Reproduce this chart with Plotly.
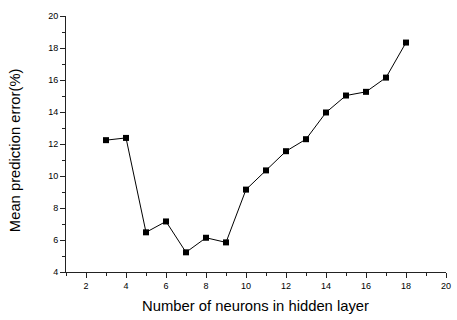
import plotly.graph_objects as go

neurons = [3, 4, 5, 6, 7, 8, 9, 10, 11, 12, 13, 14, 15, 16, 17, 18]
error_pct = [12.24, 12.38, 6.48, 7.16, 5.23, 6.14, 5.85, 9.15, 10.35, 11.55, 12.30, 13.97, 15.03, 15.26, 16.15, 18.34]
x_ticks = [2, 4, 6, 8, 10, 12, 14, 16, 18, 20]
y_ticks = [4, 6, 8, 10, 12, 14, 16, 18, 20]

W, H = 457, 320
ML, MR, MT, MB = 66, 6, 16, 48
PW, PH = W - ML - MR, H - MT - MB

fig = go.Figure(go.Scatter(
    x=neurons, y=error_pct, mode="lines+markers",
    line=dict(color="black", width=1),
    marker=dict(symbol="square", size=6, color="black"),
    cliponaxis=False,
))

axis_common = dict(
    showline=True, linecolor="#222", linewidth=1,
    ticks="outside", ticklen=5, tickwidth=1, tickcolor="#222",
    showgrid=False, zeroline=False,
    tickfont=dict(family="Liberation Sans, Arial", size=9, color="black"),
)

fig.update_layout(
    width=W, height=H,
    margin=dict(l=ML, r=MR, t=MT, b=MB),
    paper_bgcolor="white", plot_bgcolor="white",
    showlegend=False,
    xaxis=dict(range=[1, 20], tickvals=x_ticks, ticktext=[str(v) for v in x_ticks],
               minor=dict(dtick=1, tick0=1, ticks="outside", ticklen=3, tickcolor="#222"),
               **axis_common),
    yaxis=dict(range=[4, 20], tickvals=y_ticks, ticktext=[str(v) for v in y_ticks],
               minor=dict(dtick=1, tick0=4, ticks="outside", ticklen=3, tickcolor="#222"),
               **axis_common),
    annotations=[
        dict(text="Number of neurons in hidden layer", xref="paper", yref="paper",
             x=(258 - ML) / PW, y=(H - MB - 306) / PH, xanchor="center", yanchor="middle",
             showarrow=False, font=dict(family="Liberation Sans, Arial", size=14.8, color="black")),
        dict(text="Mean prediction error(%)", xref="paper", yref="paper", textangle=-90,
             x=(14.5 - ML) / PW, y=(H - MB - 150) / PH, xanchor="center", yanchor="middle",
             showarrow=False, font=dict(family="Liberation Sans, Arial", size=14.8, color="black")),
    ],
)

fig.write_html("out.html", config={"displayModeBar": False},
               post_script="document.body.style.margin='0';")
